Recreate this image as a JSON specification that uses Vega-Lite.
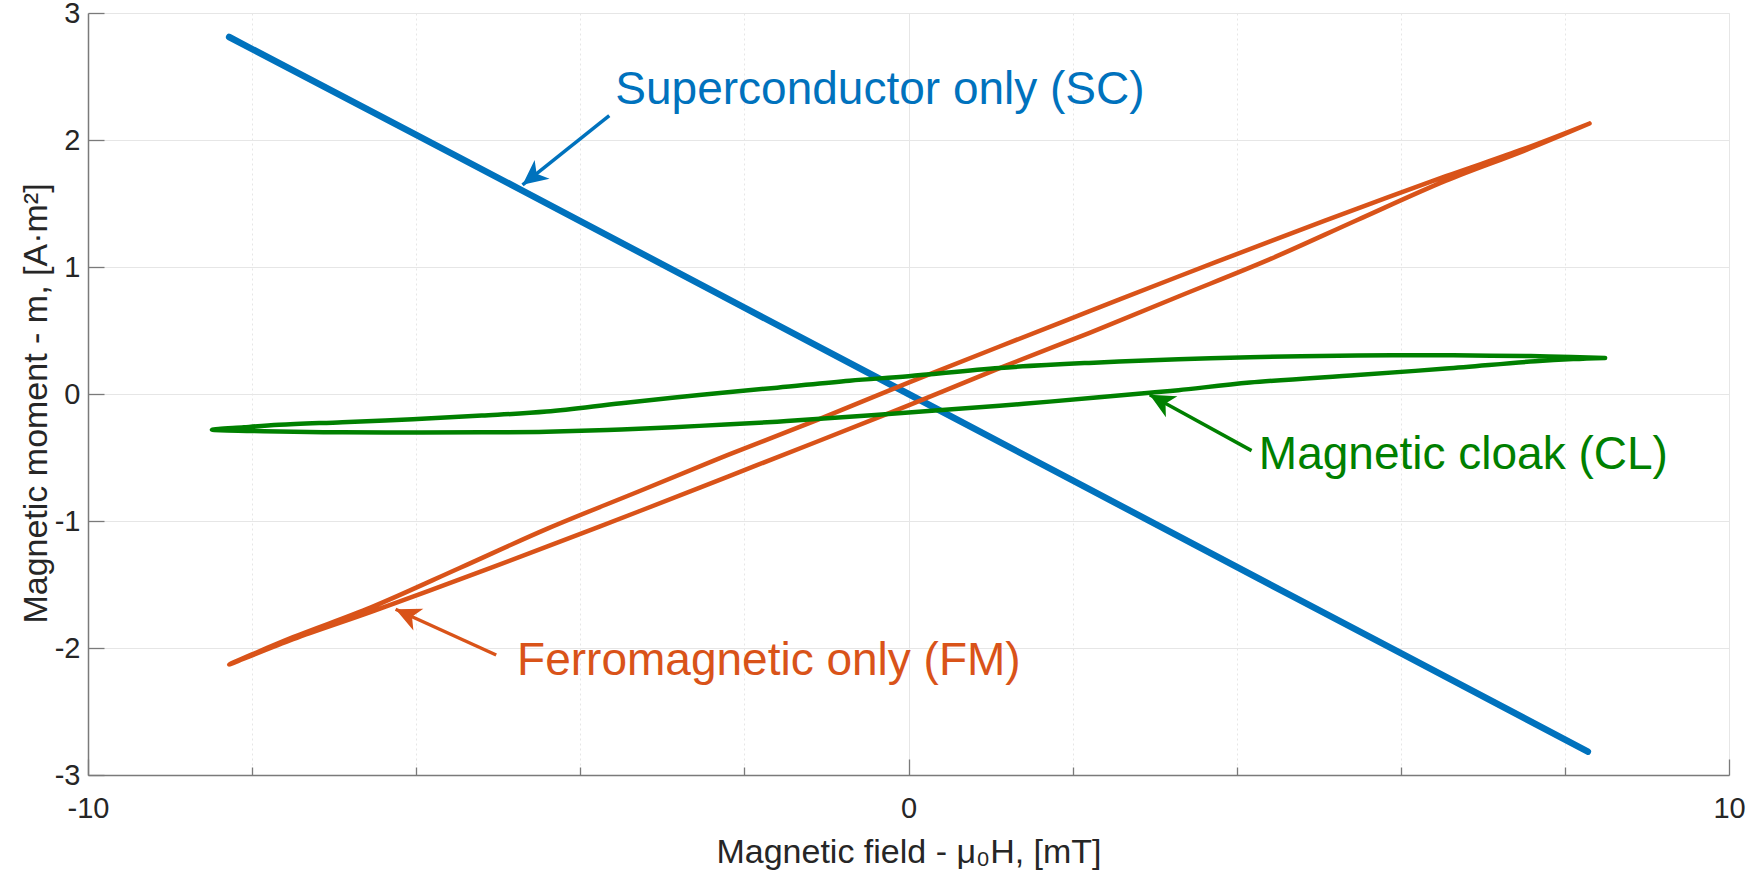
{
  "$schema": "https://vega.github.io/schema/vega-lite/v6.json",
  "width": 1641,
  "height": 762,
  "autosize": {"type": "none"},
  "padding": {"left": 88, "top": 13, "right": 20, "bottom": 104},
  "background": "white",
  "config": {
    "view": {"stroke": "#e6e6e6", "strokeWidth": 1},
    "font": "Liberation Sans",
    "axis": {
      "labelFont": "Liberation Sans",
      "labelFontSize": 29,
      "labelColor": "#262626",
      "titleFont": "Liberation Sans",
      "titleFontSize": 34,
      "titleFontWeight": "normal",
      "titleColor": "#262626",
      "domainColor": "#7a7a7a",
      "domainWidth": 1.5,
      "tickColor": "#7a7a7a",
      "tickWidth": 1.3,
      "gridColor": "#e6e6e6",
      "gridWidth": 1
    }
  },
  "datasets": {
    "curves": [
      {"series": "SC", "i": 0, "H": -8.28, "m": 2.811},
      {"series": "SC", "i": 1, "H": -6.0, "m": 2.04},
      {"series": "SC", "i": 2, "H": -4.7, "m": 1.6},
      {"series": "SC", "i": 3, "H": -2.0, "m": 0.68},
      {"series": "SC", "i": 4, "H": 0.0, "m": 0.0},
      {"series": "SC", "i": 5, "H": 2.0, "m": -0.68},
      {"series": "SC", "i": 6, "H": 4.7, "m": -1.6},
      {"series": "SC", "i": 7, "H": 6.0, "m": -2.04},
      {"series": "SC", "i": 8, "H": 8.28, "m": -2.816},

      {"series": "FM", "i": 0, "H": 8.3, "m": 2.13},
      {"series": "FM", "i": 1, "H": 7.5, "m": 1.93},
      {"series": "FM", "i": 2, "H": 6.55, "m": 1.715},
      {"series": "FM", "i": 3, "H": 5.47, "m": 1.46},
      {"series": "FM", "i": 4, "H": 4.4, "m": 1.2},
      {"series": "FM", "i": 5, "H": 3.29, "m": 0.925},
      {"series": "FM", "i": 6, "H": 2.2, "m": 0.65},
      {"series": "FM", "i": 7, "H": 1.11, "m": 0.374},
      {"series": "FM", "i": 8, "H": 0.0, "m": 0.09},
      {"series": "FM", "i": 9, "H": -1.11, "m": -0.204},
      {"series": "FM", "i": 10, "H": -2.2, "m": -0.48},
      {"series": "FM", "i": 11, "H": -3.29, "m": -0.768},
      {"series": "FM", "i": 12, "H": -4.4, "m": -1.06},
      {"series": "FM", "i": 13, "H": -5.47, "m": -1.37},
      {"series": "FM", "i": 14, "H": -6.55, "m": -1.68},
      {"series": "FM", "i": 15, "H": -7.5, "m": -1.915},
      {"series": "FM", "i": 16, "H": -8.28, "m": -2.13},
      {"series": "FM", "i": 17, "H": -7.5, "m": -1.93},
      {"series": "FM", "i": 18, "H": -6.55, "m": -1.715},
      {"series": "FM", "i": 19, "H": -5.47, "m": -1.46},
      {"series": "FM", "i": 20, "H": -4.4, "m": -1.2},
      {"series": "FM", "i": 21, "H": -3.29, "m": -0.925},
      {"series": "FM", "i": 22, "H": -2.2, "m": -0.65},
      {"series": "FM", "i": 23, "H": -1.11, "m": -0.374},
      {"series": "FM", "i": 24, "H": 0.0, "m": -0.09},
      {"series": "FM", "i": 25, "H": 1.11, "m": 0.204},
      {"series": "FM", "i": 26, "H": 2.2, "m": 0.48},
      {"series": "FM", "i": 27, "H": 3.29, "m": 0.768},
      {"series": "FM", "i": 28, "H": 4.4, "m": 1.06},
      {"series": "FM", "i": 29, "H": 5.47, "m": 1.37},
      {"series": "FM", "i": 30, "H": 6.55, "m": 1.68},
      {"series": "FM", "i": 31, "H": 7.5, "m": 1.915},
      {"series": "FM", "i": 32, "H": 8.3, "m": 2.13},

      {"series": "CL", "i": 0, "H": 8.49, "m": 0.284},
      {"series": "CL", "i": 1, "H": 7.8, "m": 0.296},
      {"series": "CL", "i": 2, "H": 7.1, "m": 0.302},
      {"series": "CL", "i": 3, "H": 6.2, "m": 0.305},
      {"series": "CL", "i": 4, "H": 5.47, "m": 0.303},
      {"series": "CL", "i": 5, "H": 4.16, "m": 0.29},
      {"series": "CL", "i": 6, "H": 3.29, "m": 0.274},
      {"series": "CL", "i": 7, "H": 2.2, "m": 0.245},
      {"series": "CL", "i": 8, "H": 1.11, "m": 0.205},
      {"series": "CL", "i": 9, "H": 0.0, "m": 0.14},
      {"series": "CL", "i": 10, "H": -0.72, "m": 0.105},
      {"series": "CL", "i": 11, "H": -1.6, "m": 0.05},
      {"series": "CL", "i": 12, "H": -2.55, "m": -0.007},
      {"series": "CL", "i": 13, "H": -3.5, "m": -0.072},
      {"series": "CL", "i": 14, "H": -4.41, "m": -0.138},
      {"series": "CL", "i": 15, "H": -5.2, "m": -0.17},
      {"series": "CL", "i": 16, "H": -6.04, "m": -0.198},
      {"series": "CL", "i": 17, "H": -6.9, "m": -0.222},
      {"series": "CL", "i": 18, "H": -7.67, "m": -0.243},
      {"series": "CL", "i": 19, "H": -8.1, "m": -0.262},
      {"series": "CL", "i": 20, "H": -8.49, "m": -0.282},
      {"series": "CL", "i": 21, "H": -8.0, "m": -0.291},
      {"series": "CL", "i": 22, "H": -7.67, "m": -0.296},
      {"series": "CL", "i": 23, "H": -6.9, "m": -0.302},
      {"series": "CL", "i": 24, "H": -6.04, "m": -0.304},
      {"series": "CL", "i": 25, "H": -5.2, "m": -0.302},
      {"series": "CL", "i": 26, "H": -4.41, "m": -0.297},
      {"series": "CL", "i": 27, "H": -3.5, "m": -0.28},
      {"series": "CL", "i": 28, "H": -2.55, "m": -0.251},
      {"series": "CL", "i": 29, "H": -1.6, "m": -0.218},
      {"series": "CL", "i": 30, "H": -0.72, "m": -0.18},
      {"series": "CL", "i": 31, "H": 0.0, "m": -0.145},
      {"series": "CL", "i": 32, "H": 1.11, "m": -0.093},
      {"series": "CL", "i": 33, "H": 1.72, "m": -0.06},
      {"series": "CL", "i": 34, "H": 2.94, "m": 0.01},
      {"series": "CL", "i": 35, "H": 3.29, "m": 0.03},
      {"series": "CL", "i": 36, "H": 4.16, "m": 0.09},
      {"series": "CL", "i": 37, "H": 5.47, "m": 0.15},
      {"series": "CL", "i": 38, "H": 6.55, "m": 0.2},
      {"series": "CL", "i": 39, "H": 7.64, "m": 0.258},
      {"series": "CL", "i": 40, "H": 8.1, "m": 0.275},
      {"series": "CL", "i": 41, "H": 8.49, "m": 0.284}
    ],
    "arrows": [
      {"series": "SC", "H": -3.647, "m": 2.191, "H2": -4.704, "m2": 1.647},
      {"series": "FM", "H": -5.025, "m": -2.055, "H2": -6.251, "m2": -1.695},
      {"series": "CL", "H": 4.181, "m": -0.446, "H2": 2.94, "m2": -0.006}
    ],
    "labels": [
      {"series": "SC", "text": "Superconductor only (SC)", "H": -3.573, "m": 2.283},
      {"series": "FM", "text": "Ferromagnetic only (FM)", "H": -4.77, "m": -2.212},
      {"series": "CL", "text": "Magnetic cloak (CL)", "H": 4.27, "m": -0.592}
    ]
  },
  "encoding": {
    "x": {
      "field": "H", "type": "quantitative",
      "scale": {"domain": [-10, 10], "nice": false, "zero": false},
      "axis": {
        "values": [-10, -8, -6, -4, -2, 0, 2, 4, 6, 8, 10],
        "labelExpr": "datum.value % 10 === 0 ? '' + datum.value : ''",
        "tickSize": {"condition": {"test": "datum.value % 10 === 0", "value": -16}, "value": -8},
        "gridDash": {"condition": {"test": "datum.value % 10 === 0", "value": []}, "value": [2, 3]},
        "labelPadding": 35,
        "labelFlush": false,
        "labelOverlap": false,
        "title": "Magnetic field - μ₀H, [mT]",
        "titleBaseline": "alphabetic",
        "titleY": 87
      }
    },
    "y": {
      "field": "m", "type": "quantitative",
      "scale": {"domain": [-3, 3], "nice": false, "zero": false},
      "axis": {
        "values": [-3, -2, -1, 0, 1, 2, 3],
        "labelExpr": "'' + datum.value",
        "tickSize": -16,
        "labelPadding": 24,
        "labelFlush": false,
        "labelOverlap": false,
        "title": "Magnetic moment - m, [A·m²]",
        "titleAngle": -90,
        "titleAlign": "center",
        "titleBaseline": "alphabetic",
        "titleX": -42,
        "titleY": 390
      }
    }
  },
  "layer": [
    {
      "data": {"name": "curves"},
      "transform": [{"filter": "datum.series === 'SC'"}],
      "mark": {"type": "line", "color": "#0072BD", "strokeWidth": 6.5, "strokeCap": "round", "strokeJoin": "round"},
      "encoding": {
        "order": {"field": "i", "type": "quantitative"}
      }
    },
    {
      "data": {"name": "curves"},
      "transform": [{"filter": "datum.series === 'FM'"}],
      "mark": {"type": "line", "color": "#D95319", "strokeWidth": 4.5, "strokeCap": "round", "strokeJoin": "round", "interpolate": "catmull-rom"},
      "encoding": {
        "order": {"field": "i", "type": "quantitative"}
      }
    },
    {
      "data": {"name": "curves"},
      "transform": [{"filter": "datum.series === 'CL'"}],
      "mark": {"type": "line", "color": "#008000", "strokeWidth": 4.5, "strokeCap": "round", "strokeJoin": "round", "interpolate": "catmull-rom"},
      "encoding": {
        "order": {"field": "i", "type": "quantitative"}
      }
    },
    {
      "data": {"name": "arrows"},
      "mark": {"type": "rule", "strokeWidth": 3.5},
      "encoding": {
        "x2": {"field": "H2"},
        "y2": {"field": "m2"},
        "color": {"field": "series", "type": "nominal", "scale": {"domain": ["SC", "FM", "CL"], "range": ["#0072BD", "#D95319", "#008000"]}, "legend": null}
      }
    },
    {
      "data": {"name": "arrows"},
      "transform": [{"filter": "datum.series === 'SC'"}],
      "mark": {"type": "point", "shape": "M0,0L0.48,1L0,0.72L-0.48,1Z", "size": 2500, "filled": true, "opacity": 1, "angle": 231.5},
      "encoding": {
        "x": {"field": "H2", "type": "quantitative"},
        "y": {"field": "m2", "type": "quantitative"},
        "color": {"field": "series", "type": "nominal", "legend": null}
      }
    },
    {
      "data": {"name": "arrows"},
      "transform": [{"filter": "datum.series === 'FM'"}],
      "mark": {"type": "point", "shape": "M0,0L0.48,1L0,0.72L-0.48,1Z", "size": 2500, "filled": true, "opacity": 1, "angle": 294.4},
      "encoding": {
        "x": {"field": "H2", "type": "quantitative"},
        "y": {"field": "m2", "type": "quantitative"},
        "color": {"field": "series", "type": "nominal", "legend": null}
      }
    },
    {
      "data": {"name": "arrows"},
      "transform": [{"filter": "datum.series === 'CL'"}],
      "mark": {"type": "point", "shape": "M0,0L0.48,1L0,0.72L-0.48,1Z", "size": 2500, "filled": true, "opacity": 1, "angle": 298.7},
      "encoding": {
        "x": {"field": "H2", "type": "quantitative"},
        "y": {"field": "m2", "type": "quantitative"},
        "color": {"field": "series", "type": "nominal", "legend": null}
      }
    },
    {
      "data": {"name": "labels"},
      "mark": {"type": "text", "align": "left", "baseline": "alphabetic", "fontSize": 46, "font": "Liberation Sans"},
      "encoding": {
        "text": {"field": "text"},
        "color": {"field": "series", "type": "nominal", "legend": null}
      }
    }
  ]
}
